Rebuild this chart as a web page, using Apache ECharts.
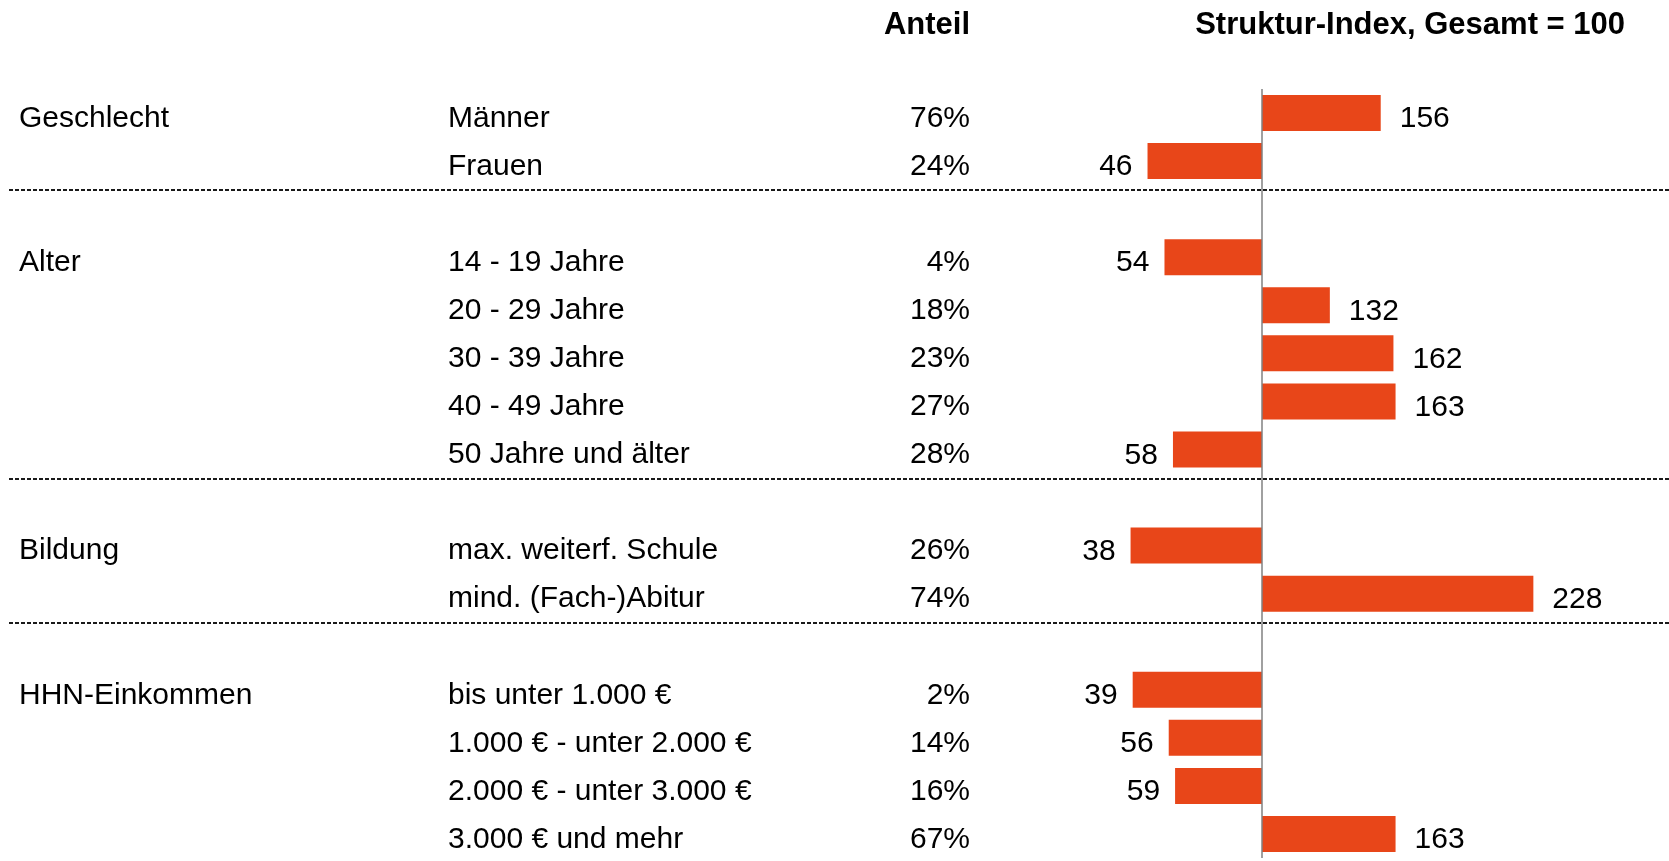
<!DOCTYPE html>
<html>
<head>
<meta charset="utf-8">
<script src="https://cdn.jsdelivr.net/npm/echarts@6/dist/echarts.min.js"></script>
<style>
  html, body { margin: 0; padding: 0; background: #fff; }
  #chart { width: 1669px; height: 861px; }
</style>
</head>
<body>
<div id="chart"></div>
<script>
// rows, top to bottom; empty rows are the gaps between the groups
const groups = ['Geschlecht', '', '', 'Alter', '', '', '', '', '', 'Bildung', '', '', 'HHN-Einkommen', '', '', '']
const categories = [
    'Männer', 'Frauen', '',
    '14 - 19 Jahre', '20 - 29 Jahre', '30 - 39 Jahre', '40 - 49 Jahre', '50 Jahre und älter', '',
    'max. weiterf. Schule', 'mind. (Fach-)Abitur', '',
    'bis unter 1.000 €', '1.000 € - unter 2.000 €', '2.000 € - unter 3.000 €', '3.000 € und mehr'
]
const anteil = [76, 24, null, 4, 18, 23, 27, 28, null, 26, 74, null, 2, 14, 16, 67]
const strukturIndex = [156, 46, null, 54, 132, 162, 163, 58, null, 38, 228, null, 39, 56, 59, 163]
const basis = 100

const FONT = 'Liberation Sans, Arial, sans-serif'
const BAR = '#E84619'

const chart = echarts.init(document.getElementById('chart'))

const rowLabel = (margin, align) => ({
    interval: 0,
    margin: margin,
    align: align,
    color: '#000',
    fontSize: 30,
    fontFamily: FONT,
    hideOverlap: false
})

const labelAxis = { position: 'left', gridIndex: 2, type: 'category', inverse: true,
    axisLine: { show: false }, axisTick: { show: false }, splitLine: { show: false } }

const option = {
    animation: false,
    backgroundColor: '#fff',
    title: [
        { text: 'Anteil', right: 699, top: 10, padding: 0,
          textStyle: { fontSize: 31, fontWeight: 'bold', fontFamily: FONT, color: '#000' } },
        { text: 'Struktur-Index, Gesamt = 100', right: 44, top: 10, padding: 0,
          textStyle: { fontSize: 31, fontWeight: 'bold', fontFamily: FONT, color: '#000' } }
    ],
    grid: [
        // bars
        { left: 1050, top: 89, width: 530, height: 769, containLabel: false, outerBoundsMode: 'none' },
        // full-width grid only for the dashed group separators
        { left: 9, right: 0, top: 94, height: 769, containLabel: false, outerBoundsMode: 'none' },
        // row texts, sitting slightly lower than the bars
        { left: 1050, top: 94.5, width: 530, height: 769, containLabel: false, outerBoundsMode: 'none' }
    ],
    xAxis: [
        { type: 'value', gridIndex: 0, min: 0, max: 250, show: false },
        { type: 'value', gridIndex: 1, min: 0, max: 1, show: false },
        { type: 'value', gridIndex: 2, min: 0, max: 1, show: false }
    ],
    yAxis: [
        { type: 'category', gridIndex: 0, inverse: true, data: categories, show: false },
        {
            type: 'category', gridIndex: 1, inverse: true, position: 'left', data: categories,
            axisLine: { show: false }, axisTick: { show: false }, axisLabel: { show: false },
            splitLine: {
                show: true,
                interval: (i) => strukturIndex[i] === null,
                lineStyle: { color: '#1a1a1a', width: 2, type: [4, 2] }
            }
        },
        Object.assign({ data: categories, axisLabel: rowLabel(602, 'left') }, labelAxis),
        Object.assign({ data: groups, axisLabel: rowLabel(1031, 'left') }, labelAxis),
        Object.assign({ data: anteil.map(v => v == null ? '' : v + '%'),
            axisLabel: rowLabel(80, 'right') }, labelAxis)
    ],
    series: [{
        type: 'custom',
        xAxisIndex: 0,
        yAxisIndex: 0,
        data: strukturIndex.map((v, i) => [v, i]).filter(d => d[0] != null),
        encode: { x: 0, y: 1 },
        renderItem: (params, api) => {
            const v = api.value(0)
            const base = api.coord([basis, api.value(1)])
            const end = api.coord([v, api.value(1)])
            const h = api.size([0, 1])[1] * 0.75
            const x1 = Math.min(base[0], end[0])
            const x2 = Math.max(base[0], end[0])
            const pos = v >= basis
            return {
                type: 'group',
                children: [{
                    type: 'rect',
                    shape: { x: x1, y: base[1] - h / 2, width: x2 - x1, height: h },
                    style: { fill: BAR }
                }, {
                    type: 'text',
                    style: {
                        text: String(v),
                        x: pos ? x2 + 19 : x1 - 15,
                        y: base[1] + 6,
                        align: pos ? 'left' : 'right',
                        verticalAlign: 'middle',
                        font: '30px ' + FONT,
                        fill: '#000'
                    }
                }]
            }
        },
        markLine: {
            silent: true,
            symbol: 'none',
            label: { show: false },
            lineStyle: { color: '#808080', width: 1.5, type: 'solid' },
            data: [{ xAxis: basis }]
        },
        z: 3
    }]
}

chart.setOption(option)
</script>
</body>
</html>
